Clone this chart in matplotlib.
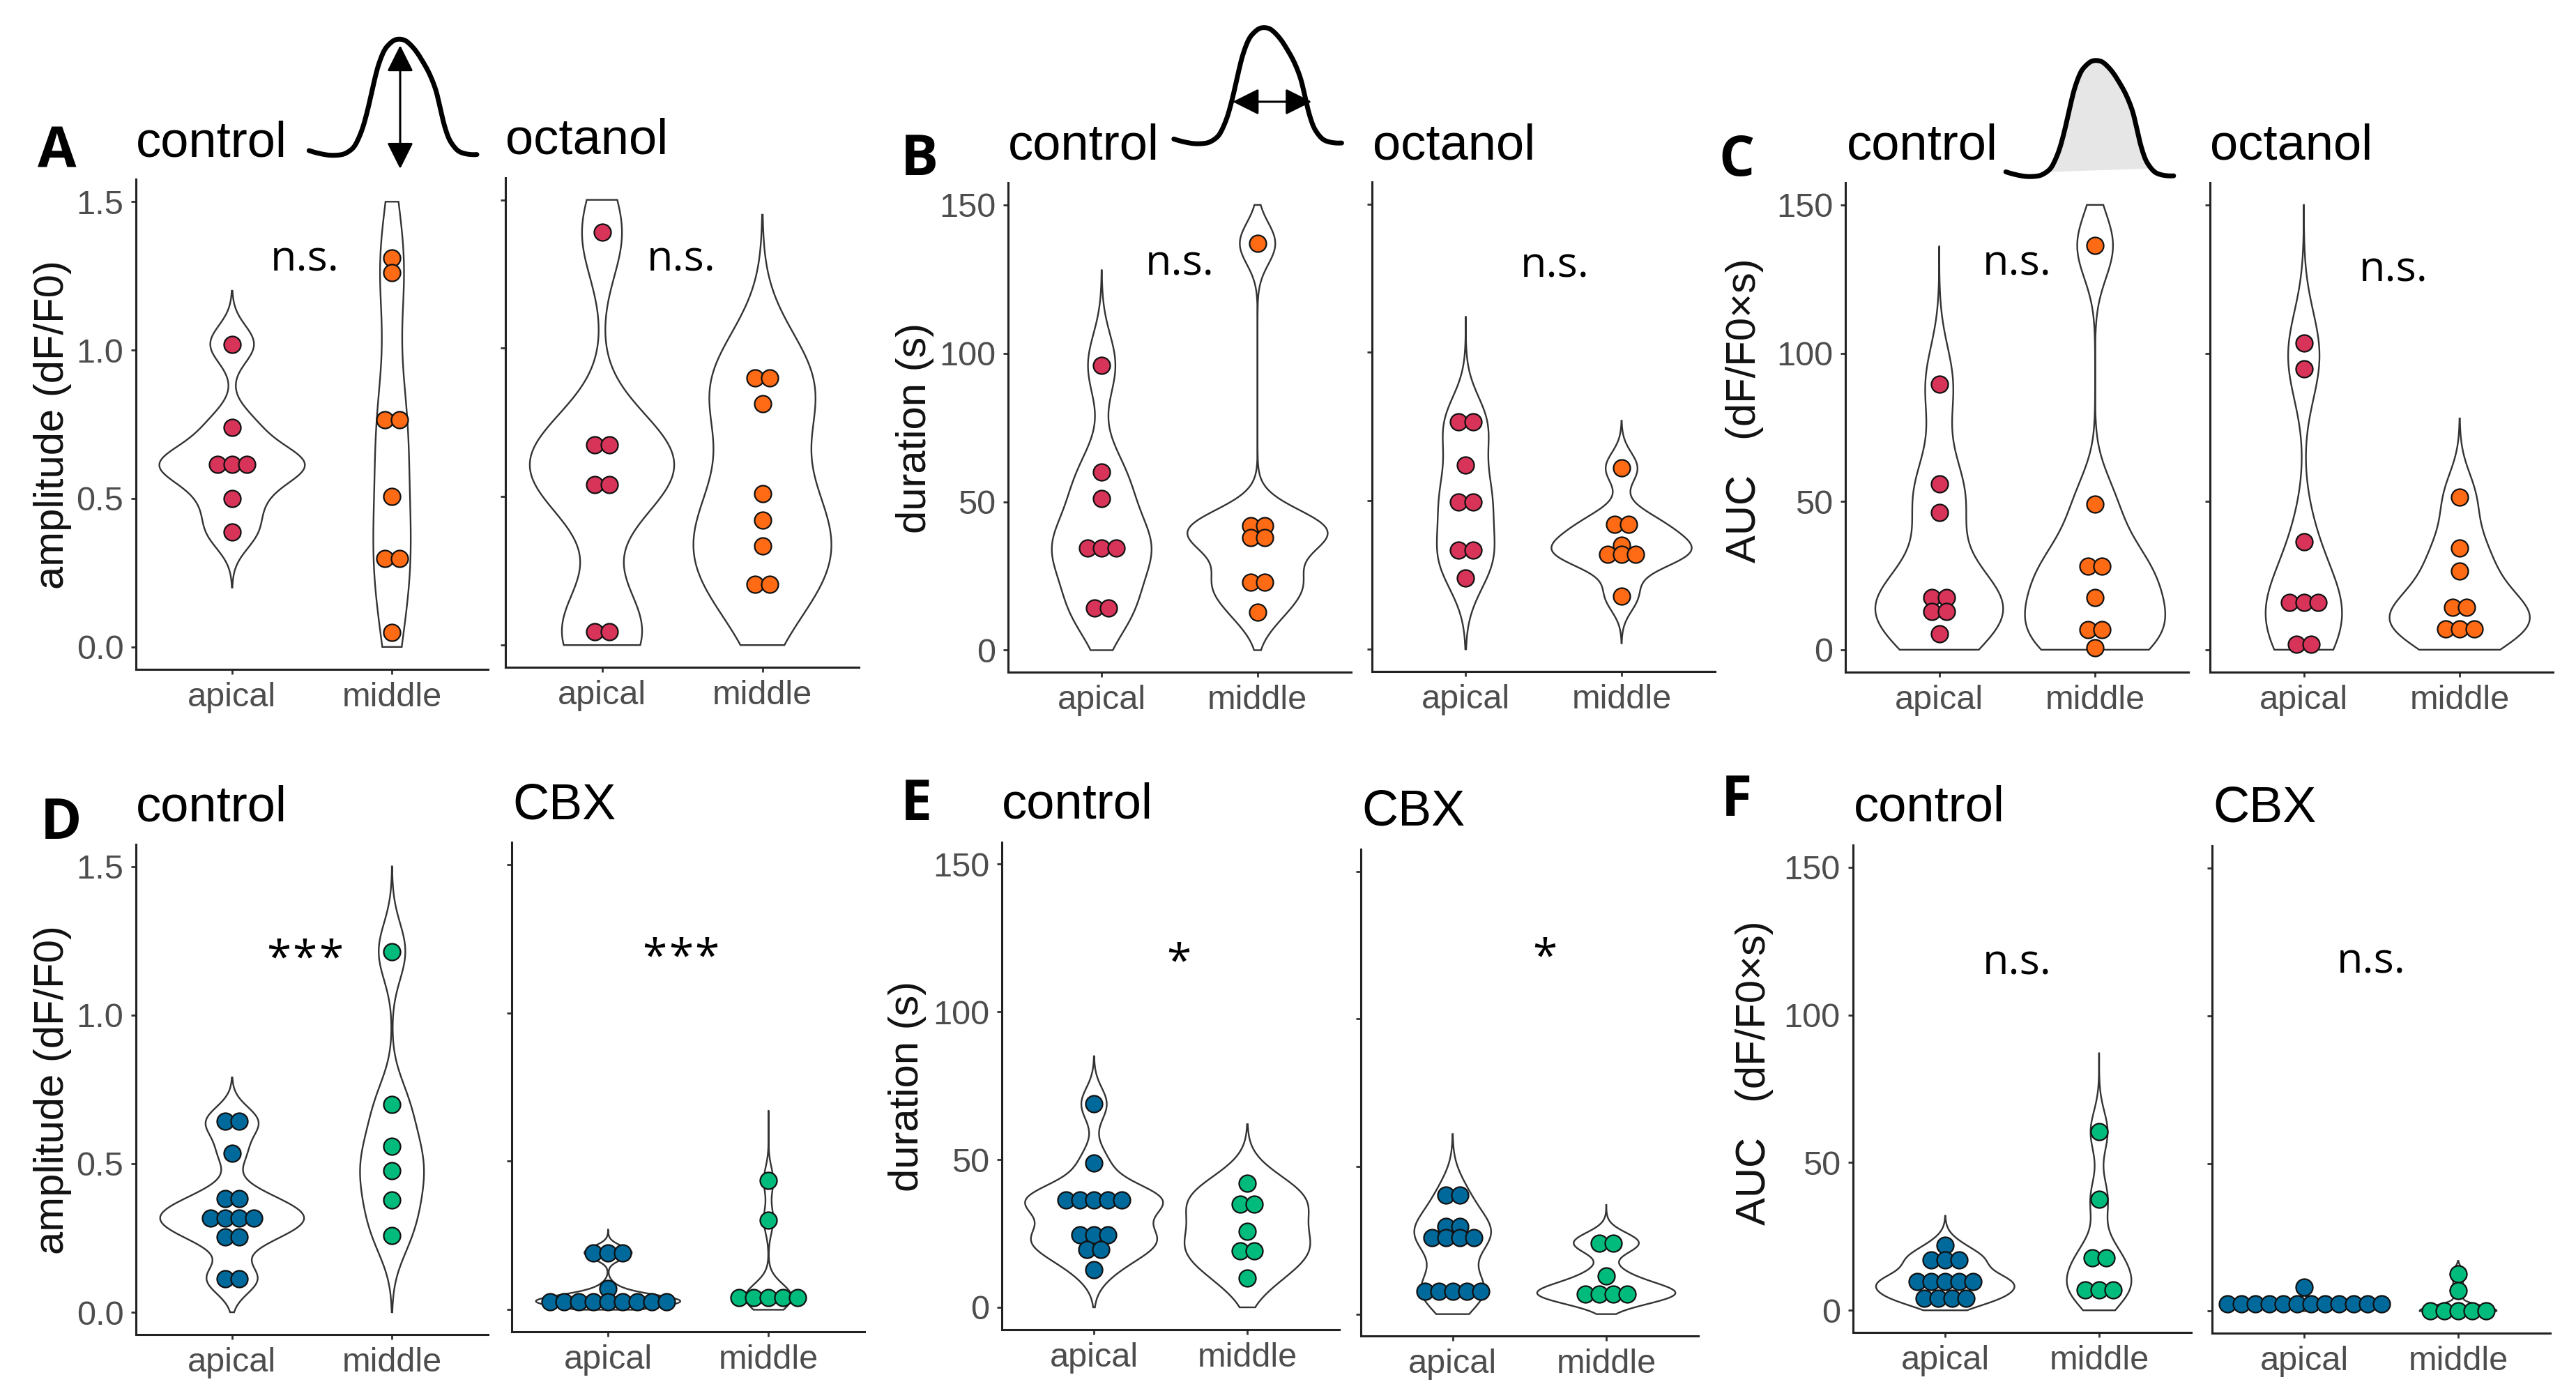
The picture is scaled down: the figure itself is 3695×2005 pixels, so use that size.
import matplotlib
matplotlib.use("Agg")
import matplotlib.pyplot as plt
import numpy as np
from collections import Counter

plt.rcParams['font.family'] = ['Liberation Sans', 'DejaVu Sans']

# --- values (equal values sit side by side in a row) ---
a_ctrl_apical = [1.02, 0.74, 0.615, 0.615, 0.615, 0.50, 0.387]
a_ctrl_middle = [1.31, 1.26, 0.765, 0.765, 0.507, 0.297, 0.297, 0.05]
a_oct_apical = [1.39, 0.675, 0.675, 0.54, 0.54, 0.045, 0.045]
a_oct_middle = [0.90, 0.90, 0.813, 0.51, 0.42, 0.334, 0.205, 0.205]

b_ctrl_apical = [96, 60, 51, 34.3, 34.3, 34.3, 14.2, 14.2]
b_ctrl_middle = [137, 42, 42, 38, 38, 23, 23, 12.8]
b_oct_apical = [76.5, 76.5, 62, 49.5, 49.5, 33.3, 33.3, 24]
b_oct_middle = [61, 42, 42, 35, 32, 32, 32, 18]

c_ctrl_apical = [89.5, 56, 46.3, 17.6, 17.6, 12.8, 12.8, 5.3]
c_ctrl_middle = [136.3, 49, 28.2, 28.2, 17.6, 6.7, 6.7, 0.6]
c_oct_apical = [103.5, 94.8, 36.5, 15.9, 15.9, 15.9, 1.9, 1.9]
c_oct_middle = [51.4, 34.3, 26.5, 14.2, 14.2, 7, 7, 7]

d_ctrl_apical = [0.642, 0.642, 0.535, 0.382, 0.382, 0.317, 0.317, 0.317, 0.317, 0.253, 0.253, 0.112, 0.112]
d_ctrl_middle = [1.214, 0.70, 0.559, 0.477, 0.378, 0.259]
d_cbx_apical = [0.192, 0.192, 0.192, 0.071] + [0.028] * 9
d_cbx_middle = [0.436, 0.302] + [0.042] * 5

e_ctrl_apical = [68.8, 48.9] + [36.3] * 5 + [24.5] * 3 + [19.5] * 2 + [12.8]
e_ctrl_middle = [42, 35, 35, 25.7, 19, 19, 10]
e_cbx_apical = [40.3, 40.3, 29.8, 29.8, 26, 26, 26, 26] + [7.8] * 5
e_cbx_middle = [24.1, 24.1, 12.8, 6.8, 6.8, 6.8, 6.8]

f_ctrl_apical = [21.9, 17, 17, 17] + [9.7] * 5 + [4.1] * 4
f_ctrl_middle = [60.4, 37.5, 17.8, 17.8, 7, 7, 7]
f_cbx_apical = [8.2] + [2.5] * 12
f_cbx_middle = [12.5, 7] + [0.1] * 5

ICON_X = [552, 575, 605, 630, 645, 660, 672, 685, 700, 720, 740, 760, 780, 790, 800, 815, 835, 863]
ICON_Y = [324, 333, 338, 330, 305, 250, 180, 120, 92, 80, 95, 130, 175, 220, 280, 320, 335, 334]

RED, ORANGE, BLUE, GREEN = '#D8345A', '#FF6B14', '#00699B', '#00BB7C'
AMP_TICKS = [0.0, 0.5, 1.0, 1.5]
TIME_TICKS = [0, 50, 100, 150]
AMP_LABELS = ['0.0', '0.5', '1.0', '1.5']
TIME_LABELS = ['0', '50', '100', '150']
CATS = ['apical', 'middle']

# the crops were looked at squeezed, so x and y scale differently per row
SX = 1250 / 1568
SY_TOP = 1040 / 1568
SY_LOW = 945 / 1568
ROW2 = 1060

# x0, y0 are the crop origins, boxes are left, right, top, bottom inside a crop
# each violin is (values, colour, bandwidth, half width, low end, high end)
PANELS = [
    (0, 0, (245, 878, 388, 1447), 1.5, AMP_TICKS, AMP_LABELS, [
        (a_ctrl_apical, RED, 0.063, 0.455, 0.2, 1.2),
        (a_ctrl_middle, ORANGE, 0.2, 0.117, 0, 1.5)]),
    (0, 0, (910, 1545, 384, 1443), 1.5, AMP_TICKS, None, [
        (a_oct_apical, RED, 0.15, 0.45, 0, 1.5),
        (a_oct_middle, ORANGE, 0.18, 0.43, 0, 1.45)]),
    (1250, 0, (246, 863, 395, 1454), 150, TIME_TICKS, TIME_LABELS, [
        (b_ctrl_apical, RED, 10.5, 0.32, 0, 128),
        (b_ctrl_middle, ORANGE, 7, 0.45, 0, 150)]),
    (1250, 0, (901, 1518, 393, 1452), 150, TIME_TICKS, None, [
        (b_oct_apical, RED, 9.5, 0.185, 0, 112),
        (b_oct_middle, ORANGE, 5.3, 0.45, 2, 77)]),
    (2445, 0, (254, 871, 395, 1453), 150, TIME_TICKS, TIME_LABELS, [
        (c_ctrl_apical, RED, 13, 0.41, 0, 136),
        (c_ctrl_middle, ORANGE, 11, 0.45, 0, 150)]),
    (2445, 0, (910, 1527, 395, 1453), 150, TIME_TICKS, None, [
        (c_oct_apical, RED, 14, 0.245, 0, 150),
        (c_oct_middle, ORANGE, 9, 0.45, 0, 78)]),
    (0, ROW2, (245, 878, 250, 1417), 1.5, AMP_TICKS, AMP_LABELS, [
        (d_ctrl_apical, BLUE, 0.05, 0.45, 0, 0.79),
        (d_ctrl_middle, GREEN, 0.095, 0.2, 0, 1.5)]),
    (0, ROW2, (921, 1556, 245, 1411), 1.5, AMP_TICKS, None, [
        (d_cbx_apical, BLUE, 0.022, 0.45, 0, 0.27),
        (d_cbx_middle, GREEN, 0.045, 0.145, 0, 0.67)]),
    (1250, ROW2, (235, 842, 245, 1405), 150, TIME_TICKS, TIME_LABELS, [
        (e_ctrl_apical, BLUE, 5.5, 0.45, 0, 85),
        (e_ctrl_middle, GREEN, 7, 0.41, 0, 62)]),
    (1250, ROW2, (880, 1488, 262, 1421), 150, TIME_TICKS, None, [
        (e_cbx_apical, BLUE, 7, 0.25, 0, 61),
        (e_cbx_middle, GREEN, 3.5, 0.45, 0, 37)]),
    (2445, ROW2, (267, 876, 252, 1412), 150, TIME_TICKS, TIME_LABELS, [
        (f_ctrl_apical, BLUE, 3.5, 0.45, 0, 32),
        (f_ctrl_middle, GREEN, 7, 0.21, 0, 87)]),
    (2445, ROW2, (913, 1522, 254, 1414), 150, TIME_TICKS, None, [
        (f_cbx_apical, BLUE, 0.9, 0.45, 0, 10),
        (f_cbx_middle, GREEN, 1.8, 0.25, 0, 17)]),
]

W, H = 3695, 2005
fig = plt.figure(figsize=(W / 100, H / 100), dpi=100, facecolor='white')

page = fig.add_axes([0, 0, 1, 1], zorder=5)
page.set_xlim(0, W)
page.set_ylim(H, 0)
page.axis('off')
page.patch.set_alpha(0)


def to_px(x0, y0, x, y):
    sy = SY_LOW if y0 else SY_TOP
    return x0 + x * SX, y0 + y * sy


def draw_violin(ax, pos, values, colour, bw, half, low, high):
    ys = np.linspace(low, high, 400)
    dens = np.zeros_like(ys)
    for v in values:
        dens += np.exp(-0.5 * ((ys - v) / bw) ** 2)
    w = half * dens / dens.max()
    ax.fill(np.r_[pos - w, (pos + w)[::-1]], np.r_[ys, ys[::-1]], facecolor='white',
            edgecolor='#333333', lw=1.7, zorder=2, clip_on=False)
    # dots with the same value are laid out in a row
    for v, n in Counter(values).items():
        xs = pos + 0.091 * (np.arange(n) - (n - 1) / 2)
        ax.scatter(xs, [v] * n, s=300, color=colour, edgecolor='#111111', linewidth=1.6,
                   zorder=3, clip_on=False)


for x0, y0, box, top, ticks, labels, violins in PANELS:
    left, up = to_px(x0, y0, box[0], box[2])
    right, down = to_px(x0, y0, box[1], box[3])
    ax = fig.add_axes([left / W, 1 - down / H, (right - left) / W, (down - up) / H])
    for i, v in enumerate(violins):
        draw_violin(ax, i + 1, *v)
    ax.set_xlim(0.4, 2.6)
    ax.set_ylim(-0.05 * top, 1.05 * top)
    ax.set_xticks([1, 2], CATS)
    ax.set_yticks(ticks)
    if labels:
        ax.set_yticklabels(labels)
    else:
        ax.set_yticklabels([])
    ax.tick_params(length=5, width=2, color='#333333', labelcolor='#4D4D4D', labelsize=35, pad=8)
    ax.spines['top'].set_visible(False)
    ax.spines['right'].set_visible(False)
    for s in ('left', 'bottom'):
        ax.spines[s].set_linewidth(2.2)
        ax.spines[s].set_color('#222222')


def put(x0, y0, x, y, txt, **kw):
    px, py = to_px(x0, y0, x, y)
    page.text(px, py, txt, **kw)


# panel letters
LETTERS = [(0, 0, 68, 362, 'A'), (1250, 0, 52, 378, 'B'), (2445, 0, 25, 380, 'C'),
           (0, ROW2, 72, 238, 'D'), (1250, ROW2, 52, 193, 'E'), (2445, ROW2, 30, 183, 'F')]
for x0, y0, x, y, t in LETTERS:
    put(x0, y0, x, y, t, fontsize=58, fontweight='bold', family='Open Sans', va='baseline', ha='left')

# group names above the panels
NAMES = [(0, 0, 245, 338, 'control'), (0, 0, 910, 333, 'octanol'),
         (1250, 0, 246, 345, 'control'), (1250, 0, 902, 345, 'octanol'),
         (2445, 0, 256, 345, 'control'), (2445, 0, 910, 345, 'octanol'),
         (0, ROW2, 245, 195, 'control'), (0, ROW2, 922, 190, 'CBX'),
         (1250, ROW2, 234, 188, 'control'), (1250, ROW2, 882, 205, 'CBX'),
         (2445, ROW2, 268, 195, 'control'), (2445, ROW2, 915, 197, 'CBX')]
for x0, y0, x, y, t in NAMES:
    put(x0, y0, x, y, t, fontsize=52, color='black', va='baseline', ha='left')

# significance marks
MARKS = [(0, 0, 548, 585, 'n.s.'), (0, 0, 1226, 585, 'n.s.'),
         (1250, 0, 555, 595, 'n.s.'), (1250, 0, 1230, 600, 'n.s.'),
         (2445, 0, 562, 595, 'n.s.'), (2445, 0, 1240, 608, 'n.s.'),
         (2445, ROW2, 562, 560, 'n.s.'), (2445, ROW2, 1200, 557, 'n.s.')]
for x0, y0, x, y, t in MARKS:
    put(x0, y0, x, y, t, fontsize=44, family='Open Sans', color='black', ha='center', va='baseline')

# the stars are spaced wider than the font would set them
STARS = [(0, ROW2, 548, 555, '*', 3), (0, ROW2, 1225, 552, '*', 3),
         (1250, ROW2, 553, 564, '*', 1), (1250, ROW2, 1212, 552, '*', 1)]
for x0, y0, x, y, t, n in STARS:
    for k in range(n):
        put(x0, y0, x + 47 * (k - (n - 1) / 2), y, t, fontsize=46, family='Open Sans',
            color='black', ha='center', va='baseline')

# y axis titles
YTITLES = [(0, 0, 95, 919, 'amplitude (dF/F0)'), (1250, 0, 78, 925, 'duration (s)'),
           (2445, 0, 72, 888, 'AUC   (dF/F0×s)'), (0, ROW2, 95, 834, 'amplitude (dF/F0)'),
           (1250, ROW2, 65, 826, 'duration (s)'), (2445, ROW2, 90, 795, 'AUC   (dF/F0×s)')]
for x0, y0, x, y, t in YTITLES:
    put(x0, y0, x, y, t, fontsize=43, rotation=90, ha='center', va='center', color='#111111')


def smooth(vals, n=12):
    # round off the hand-read trace
    t = np.arange(len(vals))
    dense = np.interp(np.linspace(0, len(vals) - 1, 300), t, vals)
    pad = np.r_[[dense[0]] * n, dense, [dense[-1]] * n]
    return np.convolve(pad, np.ones(2 * n + 1) / (2 * n + 1), mode='valid')


# little trace icons over panels A, B and C
ix = smooth(ICON_X) * SX
iy = smooth(ICON_Y) * SY_TOP
head = dict(arrowstyle='<|-|>', color='black', lw=2.2, mutation_scale=58, shrinkA=0, shrinkB=0)
page.plot(ix, iy, color='black', lw=5, solid_capstyle='round', solid_joinstyle='round')
page.annotate('', xy=(720 * SX, 98 * SY_TOP), xytext=(720 * SX, 365 * SY_TOP), arrowprops=head)

bx = ix + 1250 - 12 * SX
by = iy - 25 * SY_TOP
page.plot(bx, by, color='black', lw=5, solid_capstyle='round', solid_joinstyle='round')
page.annotate('', xy=(1250 + 650 * SX, 220 * SY_TOP), xytext=(1250 + 792 * SX, 220 * SY_TOP), arrowprops=head)

cx = ix + 2445 - 14 * SX
cy = iy + 46 * SY_TOP
inside = (ix > 630 * SX) & (ix < 818 * SX)
page.fill(cx[inside], cy[inside], color='#E6E6E6', zorder=1)
page.plot(cx, cy, color='black', lw=5, solid_capstyle='round', solid_joinstyle='round', zorder=2)

fig.savefig('out.png', dpi=100, facecolor='white')
